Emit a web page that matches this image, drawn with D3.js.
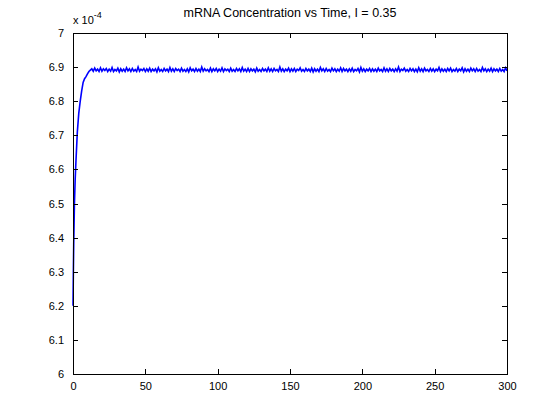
<!DOCTYPE html>
<html><head><meta charset="utf-8">
<script src="https://cdn.jsdelivr.net/npm/d3@7"></script>
<style>body{margin:0;background:#fff}svg{display:block}text{font-family:"Liberation Sans",Arial,sans-serif;fill:#000}</style>
</head><body><svg id="c" width="560" height="420"></svg>
<script>
const titleText = "mRNA Concentration vs Time, I = 0.35";
const xTicks = [0,50,100,150,200,250,300];
const yTicks = [6,6.1,6.2,6.3,6.4,6.5,6.6,6.7,6.8,6.9,7];
const riseTime = [0,0.25,0.5,1,1.5,2,3,4,5,6,7,8,9,10,11,12];
const riseValue = [6.20,6.30,6.38,6.50,6.57,6.62,6.71,6.765,6.80,6.83,6.855,6.866,6.872,6.880,6.887,6.891];
const plateauStart = 13;
const plateauValue = [
6.895,6.888,6.897,6.889,6.894,6.887,6.898,6.888,6.895,6.890,6.896,6.887,
6.894,6.888,6.899,6.887,6.893,6.889,6.897,6.886,6.895,6.888,6.894,6.887,
6.898,6.889,6.895,6.887,6.896,6.888,6.893,6.887,6.900,6.888,6.894,6.890,
6.896,6.887,6.895,6.888,6.897,6.887,6.894,6.889,6.895,6.886,6.898,6.888,
6.893,6.887,6.896,6.889,6.894,6.887,6.899,6.888,6.895,6.887,6.896,6.890,
6.894,6.887,6.897,6.888,6.893,6.887,6.895,6.886,6.898,6.889,6.894,6.887,
6.896,6.888,6.894,6.887,6.900,6.888,6.895,6.889,6.893,6.887,6.897,6.887,
6.895,6.889,6.896,6.887,6.894,6.888,6.898,6.887,6.895,6.890,6.894,6.887,
6.897,6.888,6.893,6.887,6.896,6.889,6.895,6.887,6.899,6.888,6.894,6.887,
6.896,6.887,6.895,6.889,6.894,6.886,6.897,6.888,6.893,6.887,6.896,6.889,
6.894,6.887,6.898,6.888,6.895,6.887,6.896,6.889,6.893,6.887,6.900,6.888,
6.895,6.887,6.894,6.889,6.897,6.887,6.895,6.888,6.896,6.887,6.894,6.890,
6.898,6.888,6.893,6.887,6.896,6.889,6.894,6.887,6.897,6.886,6.895,6.888,
6.894,6.887,6.899,6.889,6.895,6.887,6.896,6.888,6.893,6.887,6.897,6.889,
6.895,6.887,6.894,6.888,6.898,6.887,6.896,6.889,6.894,6.887,6.895,6.888,
6.897,6.887,6.893,6.889,6.896,6.886,6.899,6.888,6.895,6.887,6.894,6.889,
6.896,6.887,6.895,6.888,6.894,6.887,6.897,6.889,6.893,6.887,6.898,6.888,
6.895,6.887,6.896,6.889,6.894,6.887,6.895,6.888,6.900,6.887,6.894,6.890,
6.897,6.888,6.893,6.887,6.896,6.889,6.895,6.887,6.894,6.886,6.898,6.888,
6.895,6.887,6.897,6.889,6.893,6.887,6.896,6.888,6.895,6.887,6.894,6.889,
6.899,6.887,6.895,6.888,6.894,6.887,6.896,6.889,6.897,6.887,6.893,6.888,
6.896,6.887,6.894,6.889,6.898,6.886,6.895,6.888,6.894,6.887,6.897,6.889,
6.895,6.887,6.896,6.888,6.893,6.887,6.899,6.889,6.895,6.887,6.894,6.888,
6.897,6.887,6.895,6.889,6.894,6.887,6.896,6.888,6.893,6.887,6.898,6.889];

const data = riseTime.map((t,i)=>({t, v:riseValue[i]}))
  .concat(plateauValue.map((v,i)=>({t:plateauStart+i, v})));

const L=73, R=507, T=33, B=374;
const svg = d3.select("#c");
const x = d3.scaleLinear().domain([0,300]).range([L,R]);
const y = d3.scaleLinear().domain([6,7]).range([B,T]);

// data line
svg.append("path").datum(data)
  .attr("fill","none").attr("stroke","#0000ff").attr("stroke-width",1.6)
  .attr("stroke-linejoin","miter")
  .attr("d", d3.line().x(d=>x(d.t)).y(d=>y(d.v)));

// axes (inward ticks, box)
const fmtY = d3.format("~g");
svg.append("g").attr("transform",`translate(0,${B})`)
  .call(d3.axisBottom(x).tickValues(xTicks).tickSizeInner(-5).tickSizeOuter(0).tickPadding(8).tickFormat(d3.format("d")))
  .call(g=>{g.select(".domain").remove(); g.selectAll("text").attr("font-size",11).attr("font-family","Liberation Sans, Arial, sans-serif");});
svg.append("g").attr("transform",`translate(0,${T})`)
  .call(d3.axisTop(x).tickValues(xTicks).tickSizeInner(-5).tickSizeOuter(0).tickFormat(""))
  .call(g=>g.select(".domain").remove());
svg.append("g").attr("transform",`translate(${L},0)`)
  .call(d3.axisLeft(y).tickValues(yTicks).tickSizeInner(-5).tickSizeOuter(0).tickPadding(9).tickFormat(fmtY))
  .call(g=>{g.select(".domain").remove(); g.selectAll("text").attr("font-size",11).attr("font-family","Liberation Sans, Arial, sans-serif");});
svg.append("g").attr("transform",`translate(${R},0)`)
  .call(d3.axisRight(y).tickValues(yTicks).tickSizeInner(-5).tickSizeOuter(0).tickFormat(""))
  .call(g=>g.select(".domain").remove());
svg.append("rect").attr("x",L).attr("y",T).attr("width",R-L).attr("height",B-T)
  .attr("fill","none").attr("stroke","#000").attr("stroke-width",1).attr("shape-rendering","crispEdges");
svg.selectAll(".tick line").attr("stroke","#000").attr("shape-rendering","crispEdges");

// exponent label
const ex = svg.append("text").attr("x",L).attr("y",24).attr("font-size",11);
ex.append("tspan").text("x 10");
ex.append("tspan").attr("dy",-6).attr("font-size",9).text("-4");

// title
svg.append("text").attr("x",(L+R)/2).attr("y",17).attr("text-anchor","middle").attr("font-size",12.5).text(titleText);
</script></body></html>
